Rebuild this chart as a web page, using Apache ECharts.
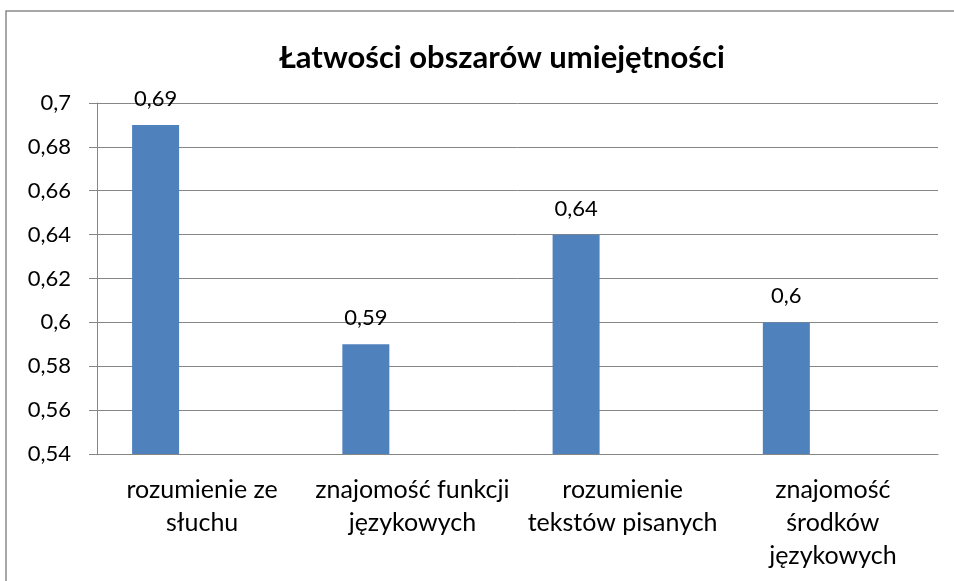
<!DOCTYPE html>
<html><head><meta charset="utf-8">
<script src="https://cdn.jsdelivr.net/npm/echarts@6/dist/echarts.min.js"></script>
<style>html,body{margin:0;padding:0;background:#fff}#c{width:954px;height:581px}</style>
</head><body><div id="c"></div>
<script>
const title = 'Łatwości obszarów umiejętności';
const categories = ['rozumienie ze\nsłuchu', 'znajomość funkcji\njęzykowych', 'rozumienie\ntekstów pisanych', 'znajomość\nśrodków\njęzykowych'];
const values = [0.69, 0.59, 0.64, 0.6];
const emptySeries = [null, null, null, null];
const yMin = 0.54, yMax = 0.7, yStep = 0.02;
const FONT = 'Lato, "Open Sans", sans-serif';
const fmt = v => String(Math.round(v * 100) / 100).replace('.', ',');

const chart = echarts.init(document.getElementById('c'));
chart.setOption({
  animation: false,
  graphic: [{ type: 'rect', shape: { x: 6, y: 11, width: 960, height: 600 }, style: { fill: 'none', stroke: '#8a8a8a', lineWidth: 1.5 } }],
  title: { text: title, left: 497, textAlign: 'center', top: 37,
    textStyle: { fontFamily: FONT, fontWeight: 'bold', fontSize: 31, color: '#000' } },
  grid: { left: 97, right: 16, top: 103, bottom: 127 },
  xAxis: { type: 'category', data: categories,
    axisLine: { lineStyle: { color: '#868686', width: 1 } },
    axisTick: { length: 8, lineStyle: { color: '#868686' } },
    axisLabel: { interval: 0, fontFamily: FONT, fontSize: 25, color: '#000', lineHeight: 33, margin: 19 } },
  yAxis: { type: 'value', min: yMin, max: yMax, interval: yStep,
    axisLine: { show: true, lineStyle: { color: '#868686' } },
    axisTick: { show: true, length: 8, lineStyle: { color: '#868686' } },
    splitLine: { lineStyle: { color: '#868686', width: 1 } },
    axisLabel: { fontFamily: FONT, fontSize: 22, color: '#000', margin: 26, formatter: fmt } },
  series: [
    { type: 'bar', data: values, barWidth: 47, barGap: '98%',
      itemStyle: { color: '#4f81bd' },
      label: { show: true, position: 'top', distance: 15, fontFamily: FONT, fontSize: 22, color: '#000',
        formatter: p => fmt(p.value) } },
    { type: 'bar', data: emptySeries, barWidth: 47 }
  ]
});
</script></body></html>
